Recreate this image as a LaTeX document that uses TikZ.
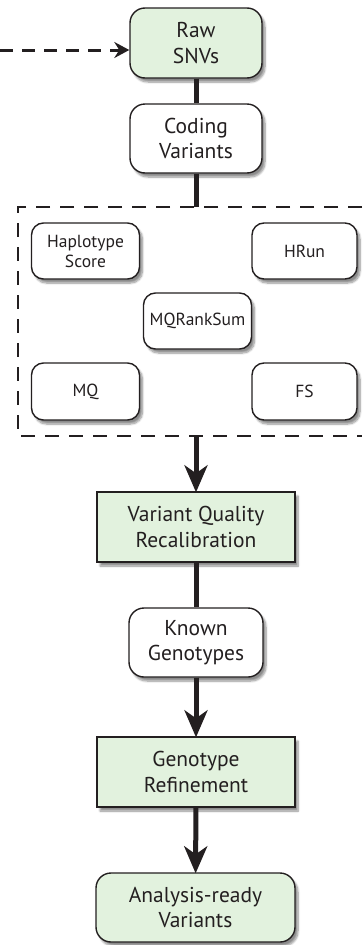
\documentclass[tikz,border=0pt]{standalone}
\usepackage{fontspec}
\setmainfont{PT Sans}
\usetikzlibrary{arrows.meta,shadows.blur}
\definecolor{boxgreen}{RGB}{226,242,222}
\definecolor{ink}{RGB}{35,31,32}
\tikzset{
  base/.style={draw=ink, line width=1.4pt, text=ink, align=center, font=\fontsize{21.5}{25.5}\selectfont,
    blur shadow={shadow xshift=3pt, shadow yshift=-4pt, shadow blur steps=8, shadow opacity=45}},
  biground/.style={base, rounded corners=15pt, minimum width=132pt, minimum height=70pt, inner sep=0pt},
  smallround/.style={base, rounded corners=12pt, minimum width=108pt, minimum height=56pt, inner sep=0pt,
    font=\fontsize{17.5}{20}\selectfont},
  greenfill/.style={fill=boxgreen},
  whitefill/.style={fill=white},
  rectbox/.style={base, fill=boxgreen, minimum width=198pt, minimum height=70pt, inner sep=0pt},
  link/.style={draw=ink, line width=5pt},
  arrowlink/.style={link, -{Stealth[length=27pt, width=23pt, inset=8pt]}, shorten >=-1pt},
  dashbox/.style={draw=ink, line width=1.6pt, dash pattern=on 14pt off 10pt},
  dasharrow/.style={draw=ink, line width=3pt, dash pattern=on 13pt off 9pt,
    -{Stealth[length=15pt, width=16pt, inset=5pt]}}
}
\begin{document}
\begin{tikzpicture}[x=1pt,y=-1pt]
\useasboundingbox (0,0) rectangle (362,945);
% dashed group box
\coordinate (boxtop) at (196,207);
\coordinate (boxbot) at (196,436);
\draw[dashbox] (362,207) -- (18,207) -- (18,436) -- (362,436);
% main nodes
\node[biground, greenfill] (raw) at (196,43) {Raw\\SNVs};
\node[biground, whitefill, minimum height=69pt] (cod) at (196,138.5) {Coding\\Variants};
\node[smallround, fill=white] (hap) at (85.5,251) {Haplotype\\Score};
\node[smallround, fill=white, minimum width=105pt] (hrun) at (304.5,251) {HRun};
\node[smallround, fill=white] (mqr) at (197.5,321) {MQRankSum};
\node[smallround, fill=white, minimum height=57pt] (mq) at (85.5,391.5) {MQ};
\node[smallround, fill=white, minimum width=105pt, minimum height=57pt] (fs) at (304.5,391.5) {FS};
\node[rectbox] (vqr) at (196,527) {Variant Quality\\Recalibration};
\node[biground, whitefill, minimum width=134pt, minimum height=69pt] (known) at (196,642.5) {Known\\Genotypes};
\node[rectbox] (gr) at (196,772) {Genotype\\Refinement};
\node[biground, greenfill, minimum width=199pt, minimum height=69pt] (ana) at (195.5,907.5) {Analysis-ready\\Variants};
% connectors
\coordinate (src) at (0,50);
\draw[dasharrow] (src) -- (src -| raw.west);
\draw[link] (raw) -- (cod);
\draw[link] (cod) -- (boxtop);
\draw[arrowlink] (boxbot) -- (vqr);
\draw[link] (vqr) -- (known);
\draw[arrowlink] (known) -- (gr);
\draw[arrowlink] (gr) -- (ana);
\end{tikzpicture}
\end{document}
